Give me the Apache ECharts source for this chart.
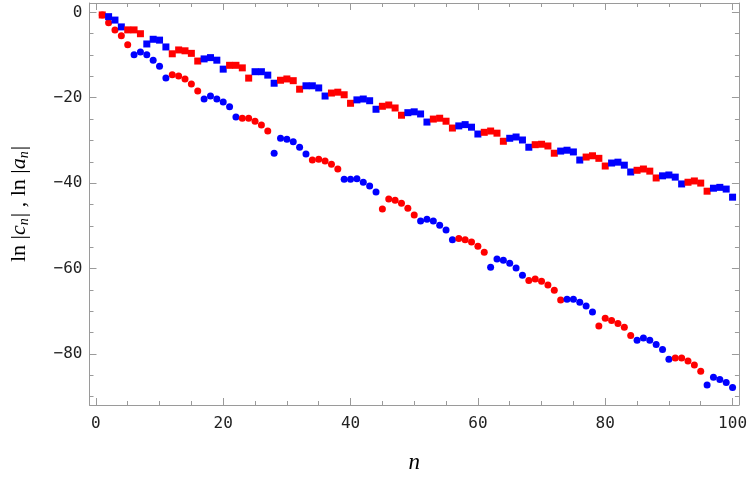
<!DOCTYPE html>
<html>
<head>
<meta charset="utf-8">
<script src="https://cdn.jsdelivr.net/npm/echarts@6/dist/echarts.min.js"></script>
<style>
  html, body { margin: 0; padding: 0; background: #fff; }
  #chart { width: 750px; height: 484px; }
</style>
</head>
<body>
<div id="chart"></div>
<script>
// ln|a_n| (squares) and ln|c_n| (circles), n = 1..100
const aValues = [
  -0.6, -1.0, -1.8, -3.4, -4.1, -4.1, -5.0, -7.4, -6.3, -6.5,
  -8.1, -9.7, -8.8, -9.0, -9.6, -11.4, -10.9, -10.6, -11.2, -13.3,
  -12.4, -12.4, -13.0, -15.4, -13.9, -13.9, -14.7, -16.6, -15.9, -15.6,
  -16.0, -18.0, -17.2, -17.2, -17.7, -19.6, -18.9, -18.7, -19.3, -21.3,
  -20.5, -20.3, -20.7, -22.7, -22.0, -21.7, -22.4, -24.1, -23.5, -23.3,
  -23.8, -25.7, -25.0, -24.8, -25.5, -27.1, -26.6, -26.3, -26.9, -28.5,
  -28.1, -27.8, -28.3, -30.2, -29.5, -29.2, -29.9, -31.6, -31.0, -30.9,
  -31.3, -33.0, -32.5, -32.3, -32.7, -34.6, -33.9, -33.6, -34.2, -36.0,
  -35.3, -35.1, -35.8, -37.4, -37.0, -36.7, -37.2, -38.8, -38.3, -38.1,
  -38.6, -40.2, -39.8, -39.5, -40.0, -41.9, -41.2, -41.0, -41.4, -43.3
]
// sign of a_n: 1 = positive (red), -1 = negative (blue)
const aSign = [
  1, -1, -1, -1, 1, 1, 1, -1, -1, -1,
  -1, 1, 1, 1, 1, 1, -1, -1, -1, -1,
  1, 1, 1, 1, -1, -1, -1, -1, 1, 1,
  1, 1, -1, -1, -1, -1, 1, 1, 1, 1,
  -1, -1, -1, -1, 1, 1, 1, 1, -1, -1,
  -1, -1, 1, 1, 1, 1, -1, -1, -1, -1,
  1, 1, 1, 1, -1, -1, -1, -1, 1, 1,
  1, 1, -1, -1, -1, -1, 1, 1, 1, 1,
  -1, -1, -1, -1, 1, 1, 1, 1, -1, -1,
  -1, -1, 1, 1, 1, 1, -1, -1, -1, -1
]
const cValues = [
  -0.6, -2.4, -4.1, -5.5, -7.6, -9.9, -9.3, -9.9, -11.2, -12.6,
  -15.4, -14.6, -14.9, -15.6, -16.8, -18.4, -20.3, -19.6, -20.3, -21.0,
  -22.1, -24.5, -24.8, -24.8, -25.5, -26.4, -27.8, -33.0, -29.5, -29.7,
  -30.3, -31.6, -33.2, -34.6, -34.4, -34.8, -35.6, -36.7, -39.1, -39.1,
  -39.0, -39.8, -40.7, -42.1, -46.1, -43.7, -44.0, -44.7, -45.9, -47.5,
  -48.9, -48.5, -48.9, -49.9, -51.0, -53.3, -53.0, -53.3, -53.8, -54.8,
  -56.2, -59.7, -57.8, -58.1, -58.8, -59.9, -61.6, -62.8, -62.5, -63.0,
  -63.9, -65.1, -67.4, -67.2, -67.2, -67.9, -68.8, -70.2, -73.5, -71.7,
  -72.2, -72.9, -73.8, -75.7, -76.8, -76.3, -76.8, -77.8, -79.0, -81.3,
  -81.0, -81.0, -81.7, -82.6, -84.1, -87.3, -85.5, -86.0, -86.7, -87.9
]
const cSign = [
  1, 1, 1, 1, 1, -1, -1, -1, -1, -1,
  -1, 1, 1, 1, 1, 1, -1, -1, -1, -1,
  -1, -1, 1, 1, 1, 1, 1, -1, -1, -1,
  -1, -1, -1, 1, 1, 1, 1, 1, -1, -1,
  -1, -1, -1, -1, 1, 1, 1, 1, 1, 1,
  -1, -1, -1, -1, -1, -1, 1, 1, 1, 1,
  1, -1, -1, -1, -1, -1, -1, 1, 1, 1,
  1, 1, 1, -1, -1, -1, -1, -1, 1, 1,
  1, 1, 1, 1, -1, -1, -1, -1, -1, -1,
  1, 1, 1, 1, 1, -1, -1, -1, -1, -1
]
const xTicks = [0, 20, 40, 60, 80, 100]
const xMinorTicks = [5, 10, 15, 25, 30, 35, 45, 50, 55, 65, 70, 75, 85, 90, 95]
const yTicks = [-80, -60, -40, -20, 0]
const yMinorTicks = [-90, -85, -75, -70, -65, -55, -50, -45, -35, -30, -25, -15, -10, -5]

const RED = '#ff0000'
const BLUE = '#0000ff'
const FRAME = '#9a9a9a'

const nValues = aValues.map((v, i) => i + 1)

function points (vals, signs) {
  return vals.map((v, i) => ({
    value: [nValues[i], v],
    itemStyle: { color: signs[i] > 0 ? RED : BLUE, opacity: 1 }
  }))
}

function fmt (v) {
  return v < 0 ? '\u2212' + Math.abs(v) : String(v)
}

const labelStyle = {
  fontFamily: 'DejaVu Sans Mono',
  fontSize: 16,
  color: '#222'
}

function xAx (pos, major, withLabel) {
  return {
    type: 'value',
    position: pos,
    min: -1,
    max: 101,
    splitLine: { show: false },
    axisLine: { show: major, onZero: false, lineStyle: { color: FRAME, width: 1 } },
    axisTick: {
      show: true,
      inside: true,
      length: major ? 7 : 4,
      customValues: major ? xTicks : xMinorTicks,
      lineStyle: { color: FRAME }
    },
    axisLabel: Object.assign({
      show: withLabel,
      margin: 11,
      customValues: xTicks,
      formatter: fmt
    }, labelStyle)
  }
}

function yAx (pos, major, withLabel) {
  return {
    type: 'value',
    position: pos,
    min: -92,
    max: 2.2,
    splitLine: { show: false },
    axisLine: { show: major, onZero: false, lineStyle: { color: FRAME, width: 1 } },
    axisTick: {
      show: true,
      inside: true,
      length: major ? 7 : 4,
      customValues: major ? yTicks : yMinorTicks,
      lineStyle: { color: FRAME }
    },
    axisLabel: Object.assign({
      show: withLabel,
      margin: 7,
      customValues: yTicks,
      formatter: fmt
    }, labelStyle)
  }
}

const xMain = xAx('bottom', true, true)
xMain.name = 'n'
xMain.nameLocation = 'middle'
xMain.nameGap = 46
xMain.nameTextStyle = {
  fontFamily: 'Liberation Serif',
  fontStyle: 'italic',
  fontSize: 23,
  color: '#000'
}

const yMain = yAx('left', true, true)
yMain.name = '{u|ln |}{i|c}{s|n}{u|| , ln |}{i|a}{s|n}{u||}'
yMain.nameLocation = 'middle'
yMain.nameRotate = 90
yMain.nameGap = 56
yMain.nameTextStyle = {
  rich: {
    u: { fontFamily: 'Liberation Serif', fontSize: 22, color: '#000', lineHeight: 28 },
    i: { fontFamily: 'Liberation Serif', fontStyle: 'italic', fontSize: 22, color: '#000', lineHeight: 28 },
    s: { fontFamily: 'Liberation Serif', fontStyle: 'italic', fontSize: 14, color: '#000', lineHeight: 28, padding: [9, 1, 0, 0] }
  }
}

const chart = echarts.init(document.getElementById('chart'))
chart.setOption({
  animation: false,
  backgroundColor: '#fff',
  grid: { left: 88, right: 10, top: 3, bottom: 79 },
  xAxis: [
    xMain,
    xAx('bottom', false, false),
    xAx('top', true, false),
    xAx('top', false, false)
  ],
  yAxis: [
    yMain,
    yAx('left', false, false),
    yAx('right', true, false),
    yAx('right', false, false)
  ],
  series: [{
    name: 'ln|c_n|',
    type: 'scatter',
    symbol: 'circle',
    symbolSize: 7,
    xAxisIndex: 0,
    yAxisIndex: 0,
    data: points(cValues, cSign)
  }, {
    name: 'ln|a_n|',
    type: 'scatter',
    symbol: 'rect',
    symbolSize: 7,
    xAxisIndex: 0,
    yAxisIndex: 0,
    data: points(aValues, aSign)
  }]
})
</script>
</body>
</html>
